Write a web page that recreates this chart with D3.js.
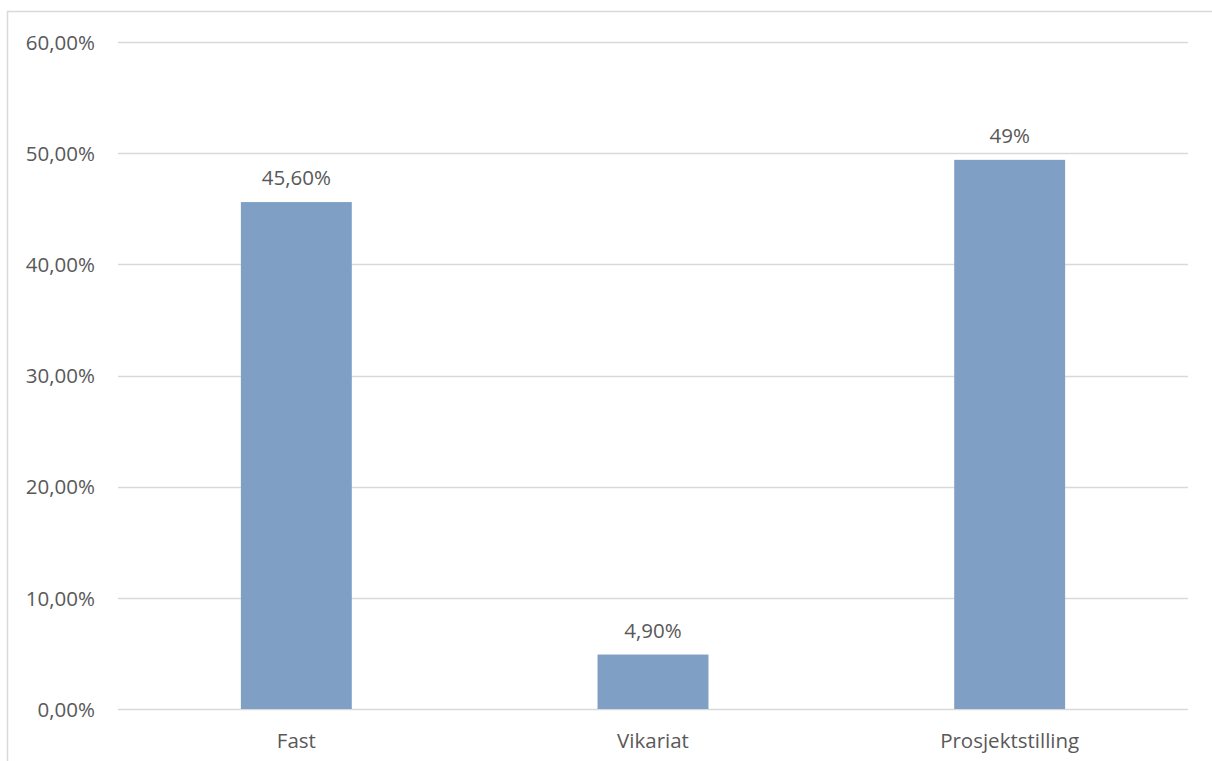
<!DOCTYPE html>
<html><head><meta charset="utf-8">
<script src="https://cdn.jsdelivr.net/npm/d3@7"></script>
<style>body{margin:0;background:#fff;}svg{display:block;}</style>
</head><body>
<svg id="chart" width="1212" height="761"></svg>
<script>
const categories = ["Fast", "Vikariat", "Prosjektstilling"];
const values = [0.456, 0.049, 0.494];
const valueLabels = ["45,60%", "4,90%", "49%"];
const yTicks = [0, 0.1, 0.2, 0.3, 0.4, 0.5, 0.6];

const svg = d3.select("#chart");
const font = "'Open Sans', sans-serif";
const fontSize = 20.5;
const textColor = "#595959";
const margin = {left: 118, right: 24, top: 42, bottom: 52};
const W = 1212, H = 761;

// outer chart border
svg.append("rect").attr("x", 7.5).attr("y", 11.5).attr("width", 1220).attr("height", 780)
  .attr("fill", "none").attr("stroke", "#d9d9d9").attr("stroke-width", 1.5);

const x = d3.scaleBand().domain(categories).range([margin.left, W - margin.right]).paddingInner(0.689).paddingOuter(0.3445);
const y = d3.scaleLinear().domain([0, 0.6]).range([H - margin.bottom, margin.top]);

const fmt = v => d3.format(".2f")(v * 100).replace(".", ",") + "%";

// gridlines
svg.append("g").selectAll("line").data(yTicks).join("line")
  .attr("x1", margin.left).attr("x2", W - margin.right)
  .attr("y1", d => Math.round(y(d)) + 0.5).attr("y2", d => Math.round(y(d)) + 0.5)
  .attr("stroke", "#d9d9d9").attr("stroke-width", 1.3);

// y axis labels
const yAxis = d3.axisLeft(y).tickValues(yTicks).tickFormat(fmt).tickSize(0).tickPadding(0);
const yg = svg.append("g").attr("transform", `translate(${margin.left - 23},0)`).call(yAxis);
yg.select(".domain").remove();
yg.selectAll("text").attr("font-family", font).attr("font-size", fontSize).attr("fill", textColor).attr("dy", "0.35em");

// bars
svg.append("g").selectAll("rect").data(values).join("rect")
  .attr("x", (d, i) => x(categories[i])).attr("width", x.bandwidth())
  .attr("y", d => y(d)).attr("height", d => y(0) - y(d))
  .attr("fill", "#7f9fc4");

// value labels
svg.append("g").selectAll("text").data(values).join("text")
  .attr("x", (d, i) => x(categories[i]) + x.bandwidth() / 2)
  .attr("y", d => y(d) - 17)
  .attr("text-anchor", "middle").attr("font-family", font).attr("font-size", fontSize).attr("fill", textColor)
  .text((d, i) => valueLabels[i]);

// x axis labels
const xAxis = d3.axisBottom(x).tickSize(0).tickPadding(0);
const xg = svg.append("g").attr("transform", `translate(0,${y(0)})`).call(xAxis);
xg.select(".domain").remove();
xg.selectAll("text").attr("font-family", font).attr("font-size", fontSize).attr("fill", textColor).attr("dy", "0").attr("y", 39);
</script>
</body></html>
